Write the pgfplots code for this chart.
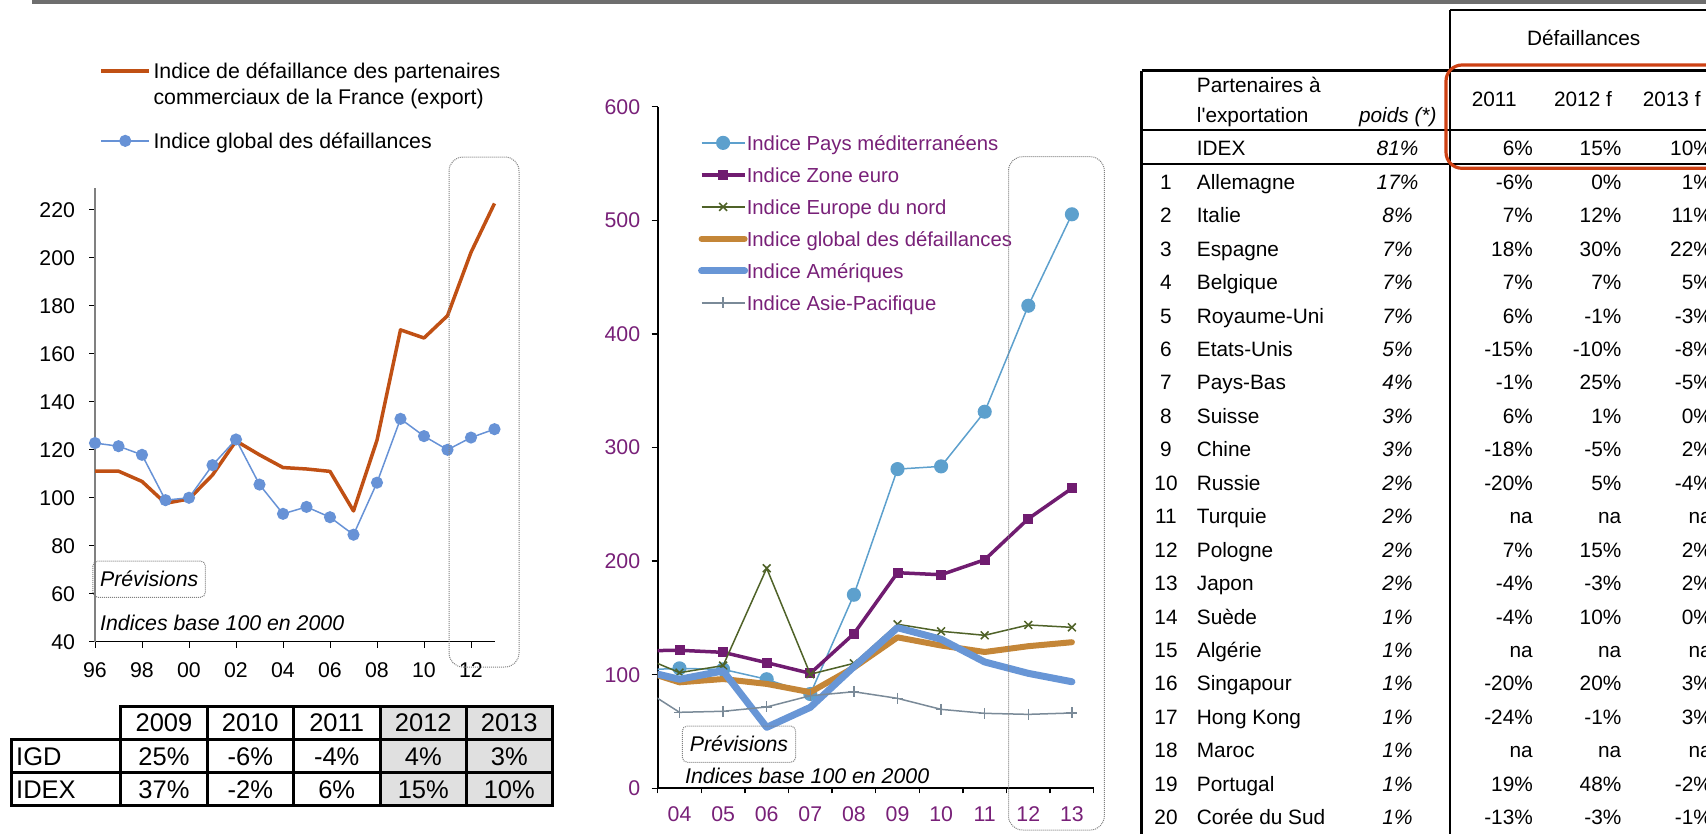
\documentclass[border=0pt]{standalone}
\usepackage{pgfplots}
\pgfplotsset{compat=1.18}
\usepackage{fontspec}
\setmainfont{Liberation Sans}
\definecolor{lorange}{RGB}{192,80,20}
\definecolor{lblue}{RGB}{103,146,214}
\definecolor{mlight}{RGB}{93,160,205}
\definecolor{meuro}{RGB}{112,28,112}
\definecolor{mnord}{RGB}{79,98,40}
\definecolor{mglob}{RGB}{196,134,56}
\definecolor{mamer}{RGB}{104,150,214}
\definecolor{masie}{RGB}{122,138,152}
\definecolor{ptxt}{RGB}{120,32,120}
\definecolor{redbox}{RGB}{205,65,20}
\definecolor{cellgray}{RGB}{224,224,224}
\definecolor{rulegray}{RGB}{110,110,110}
\newcommand{\fA}{\fontsize{21.3}{26}\selectfont}
\newcommand{\fB}{\fontsize{20.3}{24}\selectfont}
\newcommand{\fT}{\fontsize{25.5}{30}\selectfont}
\newcommand{\fR}{\fontsize{20.8}{25}\selectfont}
\begin{document}
\begin{tikzpicture}
\path[use as bounding box] (0pt,0pt) rectangle (1706pt,-833pt);
\clip (0pt,0pt) rectangle (1706pt,-833pt);

% ---------------- left chart ----------------
\begin{axis}[
  at={(95pt,-641.7pt)}, anchor=south west,
  scale only axis, width=399.5pt, height=453.4pt,
  xmin=1996, xmax=2013, ymin=40, ymax=229,
  axis x line=bottom, axis y line=left, axis line style={-},
  x axis line style={black, line width=1.2pt},
  y axis line style={gray, line width=1.2pt},
  xtick={1996,1998,...,2012}, xticklabels={96,98,00,02,04,06,08,10,12},
  ytick={40,60,...,220},
  tick align=outside, major tick length=6pt,
  tick style={black, line width=1pt},
  ticklabel style={font=\fA},
  /pgf/number format/assume math mode=true,
  xticklabel style={yshift=-11pt},
  yticklabel style={xshift=-10.5pt},
  clip=false,
  legend style={at={(0.0108,1.278)}, anchor=north west, draw=none, fill=none,
    inner sep=0pt, font=\fA, cells={anchor=base west}, row sep=5pt,
    nodes={inner sep=0pt, text height=16pt, text depth=5pt},
    /tikz/every odd column/.append style={column sep=2.5pt}},
  legend image code/.code={\draw[mark repeat=2,mark phase=2,#1] plot coordinates {(0pt,7.6pt) (24pt,7.6pt) (48pt,7.6pt)};},
]
\addplot[lorange, line width=3.5pt, mark=none, line join=round] coordinates {
(1996,111.1) (1997,111.1) (1998,106.8) (1999,97.7) (2000,99.5) (2001,109.5)
(2002,123.7) (2003,117.9) (2004,112.6) (2005,112.0) (2006,111.0) (2007,94.5)
(2008,124.0) (2009,170.0) (2010,166.6) (2011,175.9) (2012,202.3) (2013,222.7)};
\addlegendentry{Indice de défaillance des partenaires}
\addlegendimage{empty legend}
\addlegendentry{commerciaux de la France (export)}
\addplot[lblue, line width=1.5pt, mark=*, mark size=5.3pt, mark options={fill=lblue, draw=lblue}] coordinates {
(1996,122.8) (1997,121.5) (1998,117.9) (1999,99.0) (2000,100.0) (2001,113.6)
(2002,124.3) (2003,105.5) (2004,93.3) (2005,96.2) (2006,91.9) (2007,84.6)
(2008,106.3) (2009,132.9) (2010,125.7) (2011,120.0) (2012,125.1) (2013,128.6)};
\addlegendentry[text height=34pt]{Indice global des défaillances}
\end{axis}

% ---------------- middle chart ----------------
\begin{axis}[
  at={(657.7pt,-788.3pt)}, anchor=south west,
  scale only axis, width=436pt, height=681.6pt,
  xmin=-0.5, xmax=9.5, ymin=0, ymax=600,
  axis x line=bottom, axis y line=left, axis line style={-, black, line width=1.8pt},
  xtick={0,...,9}, xticklabels={04,05,06,07,08,09,10,11,12,13},
  minor xtick={-0.5,0.5,...,9.5},
  ytick={0,100,...,600},
  tick align=outside, major tick length=6pt, minor tick length=5pt,
  tick style={black, line width=1.3pt},
  minor tick style={black, line width=1.3pt},
  major x tick style={draw=none},
  ticklabel style={font=\fA, text=ptxt},
  /pgf/number format/assume math mode=true,
  xticklabel style={yshift=-9pt},
  yticklabel style={xshift=-8pt},
  clip marker paths=true,
  legend style={at={(0.0922,0.960)}, anchor=north west, draw=none, fill=none,
    inner sep=0pt, font=\fB, cells={anchor=base west}, row sep=11pt,
    nodes={inner sep=0pt, text height=16pt, text depth=5pt, text=ptxt},
    /tikz/every odd column/.append style={column sep=-1.3pt}},
  legend image code/.code={\draw[mark repeat=2,mark phase=2,#1] plot coordinates {(0pt,7.3pt) (21.5pt,7.3pt) (43pt,7.3pt)};},
]
\addplot[mlight, line width=1.5pt, mark=*, mark size=6.3pt, mark options={fill=mlight, draw=mlight}] coordinates {
(-1,104) (0,105.6) (1,104.7) (2,96) (3,83) (4,170.4) (5,281) (6,283.4) (7,331.5) (8,424.8) (9,505.3)};
\addlegendentry{Indice Pays méditerranéens}
\addplot[meuro, line width=3.5pt, mark=square*, mark size=4.5pt, mark options={fill=meuro, draw=meuro, line width=1pt}] coordinates {
(-1,121) (0,121.5) (1,119.7) (2,110.6) (3,101.2) (4,136.1) (5,189.8) (6,188) (7,201.2) (8,237.3) (9,264.1)};
\addlegendentry{Indice Zone euro}
\addplot[mnord, line width=1.5pt, mark=x, mark size=5.5pt] coordinates {
(-1,118) (0,101.8) (1,108) (2,193.7) (3,100.4) (4,110) (5,144.4) (6,138.2) (7,134.7) (8,143.8) (9,141.7)};
\addlegendentry{Indice Europe du nord}
\addplot[mglob, line width=6pt, mark=none, line join=round, line cap=round] coordinates {
(-1,105.5) (0,93.3) (1,96.2) (2,91.9) (3,84.6) (4,106.3) (5,132.9) (6,125.7) (7,120) (8,125.1) (9,128.6)};
\addlegendentry{Indice global des défaillances}
\addplot[mamer, line width=7pt, mark=none, line join=round, line cap=round] coordinates {
(-1,105) (0,96) (1,103.3) (2,53.7) (3,71.3) (4,107) (5,141.4) (6,131.2) (7,111.2) (8,101.2) (9,93.8)};
\addlegendentry{Indice Amériques}
\addplot[masie, line width=1.5pt, mark=+, mark size=5.5pt] coordinates {
(-1,91.5) (0,66.9) (1,67.8) (2,71.6) (3,81.5) (4,85) (5,79.2) (6,69.5) (7,66) (8,65.1) (9,66.3)};
\addlegendentry{Indice Asie-Pacifique}
\end{axis}

\begin{scope}[x=1pt,y=-1pt]
% top rule
\draw[rulegray, line width=4pt] (32,2) -- (1706,2);

% annotations left chart
\draw[gray, densely dotted, line width=1pt, rounded corners=14pt] (449,157) rectangle (519,667);
\draw[gray, densely dotted, line width=1pt, rounded corners=5pt] (92.9,561) rectangle (205.4,597.3);
\node[anchor=base, inner sep=0pt, font=\fA\itshape] at (149.2,586.8) {Prévisions};
\node[anchor=base west, inner sep=0pt, font=\fA\itshape] at (100,630.9) {Indices base 100 en 2000};

% annotations middle chart
\draw[gray, densely dotted, line width=1pt, rounded corners=14pt] (1008.5,156.7) rectangle (1104.3,830);
\draw[gray, densely dotted, line width=1pt, rounded corners=5pt] (682.3,726) rectangle (795.7,762.3);
\node[anchor=base, inner sep=0pt, font=\fA\itshape] at (739,751.6) {Prévisions};
\node[anchor=base west, inner sep=0pt, font=\fA\itshape] at (685,783.6) {Indices base 100 en 2000};

% left table
\fill[cellgray] (380,706) rectangle (552,805.7);
\draw[line width=3pt] (120.7,706) rectangle (552,739.3);
\draw[line width=3pt] (11.7,739.3) rectangle (552,805.7);
\draw[line width=3pt] (11.7,772.7) -- (552,772.7);
\foreach \x in {207.3,293.3,380,466.7} \draw[line width=3pt] (\x,706) -- (\x,805.7);
\draw[line width=3pt] (120.7,739.3) -- (120.7,805.7);
\foreach \x/\t in {164/2009,250.3/2010,336.7/2011,423.3/2012,509.3/2013}
  \node[anchor=base, inner sep=0pt, font=\fT] at (\x,731.8) {\t};
\foreach \x/\t in {164/25\%,250.3/-6\%,336.7/-4\%,423.3/4\%,509.3/3\%}
  \node[anchor=base, inner sep=0pt, font=\fT] at (\x,765.1) {\t};
\foreach \x/\t in {164/37\%,250.3/-2\%,336.7/6\%,423.3/15\%,509.3/10\%}
  \node[anchor=base, inner sep=0pt, font=\fT] at (\x,798.3) {\t};
\node[anchor=base west, inner sep=0pt, font=\fT] at (16,765.1) {IGD};
\node[anchor=base west, inner sep=0pt, font=\fT] at (16,798.3) {IDEX};

% right table
\draw[line width=2.6pt] (1141.7,70.7) -- (1141.7,845);
\draw[line width=2.6pt] (1450,10) -- (1450,845);
\draw[line width=2.6pt] (1450,10) -- (1720,10);
\draw[line width=2.6pt] (1141.7,70.7) -- (1720,70.7);
\draw[line width=2.6pt] (1141.7,130) -- (1720,130);
\draw[line width=2.6pt] (1141.7,164) -- (1720,164);
\draw[redbox, line width=3.2pt, rounded corners=16pt] (1446,65) rectangle (1745,168.3);
\node[anchor=base, inner sep=0pt, font=\fR] at (1583.7,45.8) {Défaillances};
\node[anchor=base west, inner sep=0pt, font=\fR] at (1196.7,92.5) {Partenaires à};
\node[anchor=base west, inner sep=0pt, font=\fR] at (1196.7,122.5) {l\textquotesingle exportation};
\node[anchor=base east, inner sep=0pt, font=\fR\itshape] at (1436.7,122.5) {poids (*)};
\node[anchor=base, inner sep=0pt, font=\fR] at (1494.2,106.5) {2011};
\node[anchor=base, inner sep=0pt, font=\fR] at (1583,106.5) {2012 f};
\node[anchor=base, inner sep=0pt, font=\fR] at (1671.7,106.5) {2013 f};
\node[anchor=base west, inner sep=0pt, font=\fR] at (1196.7,155.8) {IDEX};
\node[anchor=base, inner sep=0pt, font=\fR\itshape] at (1397.5,155.8) {81\%};
\node[anchor=base east, inner sep=0pt, font=\fR] at (1533,155.8) {6\%};
\node[anchor=base east, inner sep=0pt, font=\fR] at (1621.5,155.8) {15\%};
\node[anchor=base east, inner sep=0pt, font=\fR] at (1712,155.8) {10\%};
\foreach \n/\nm/\w/\a/\b/\c [count=\i] in {
 1/Allemagne/17/-6\%/0\%/1\%,
 2/Italie/8/7\%/12\%/11\%,
 3/Espagne/7/18\%/30\%/22\%,
 4/Belgique/7/7\%/7\%/5\%,
 5/Royaume-Uni/7/6\%/-1\%/-3\%,
 6/Etats-Unis/5/-15\%/-10\%/-8\%,
 7/Pays-Bas/4/-1\%/25\%/-5\%,
 8/Suisse/3/6\%/1\%/0\%,
 9/Chine/3/-18\%/-5\%/2\%,
 10/Russie/2/-20\%/5\%/-4\%,
 11/Turquie/2/na/na/na,
 12/Pologne/2/7\%/15\%/2\%,
 13/Japon/2/-4\%/-3\%/2\%,
 14/Suède/1/-4\%/10\%/0\%,
 15/Algérie/1/na/na/na,
 16/Singapour/1/-20\%/20\%/3\%,
 17/Hong Kong/1/-24\%/-1\%/3\%,
 18/Maroc/1/na/na/na,
 19/Portugal/1/19\%/48\%/-2\%,
 20/Corée du Sud/1/-13\%/-3\%/-1\%}{
  \pgfmathsetmacro{\yy}{189.2+33.45*(\i-1)}
  \node[anchor=base, inner sep=0pt, font=\fR] at (1166,\yy) {\n};
  \node[anchor=base west, inner sep=0pt, font=\fR] at (1196.7,\yy) {\nm};
  \node[anchor=base, inner sep=0pt, font=\fR\itshape] at (1397.5,\yy) {\w\%};
  \node[anchor=base east, inner sep=0pt, font=\fR] at (1533,\yy) {\a};
  \node[anchor=base east, inner sep=0pt, font=\fR] at (1621.5,\yy) {\b};
  \node[anchor=base east, inner sep=0pt, font=\fR] at (1712,\yy) {\c};
}
\end{scope}
\end{tikzpicture}
\end{document}
